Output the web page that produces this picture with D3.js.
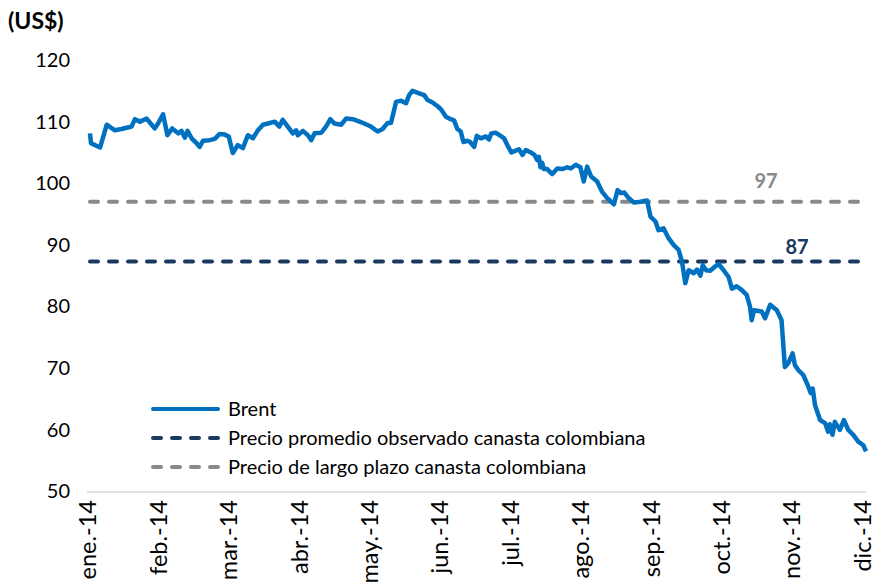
<!DOCTYPE html>
<html>
<head>
<meta charset="utf-8">
<script src="https://cdn.jsdelivr.net/npm/d3@7/dist/d3.min.js"></script>
<style>
  body { margin: 0; background: #fff; }
  svg { display: block; font-family: Lato, "Noto Sans", sans-serif; }
</style>
</head>
<body>
<div id="chart"></div>
<script>
// month labels (category axis, one label every 21 trading days)
const months = ['ene.-14', 'feb.-14', 'mar.-14', 'abr.-14', 'may.-14', 'jun.-14',
  'jul.-14', 'ago.-14', 'sep.-14', 'oct.-14', 'nov.-14', 'dic.-14'];
const monthIdx = [0, 21, 42, 63, 84, 105, 126, 147, 168, 189, 210, 231];

// Brent, US$ per barrel (position in trading days, value)
const dayIdx = [0, 0.3, 3.0, 5.0, 7.4, 9.4, 10.9, 12.4, 13.4, 14.9, 16.9, 18.4, 19.3, 20.3, 21.8,
  23.1, 24.5, 26.3, 27.3, 28.3, 29.1, 30.3, 31.8, 32.7, 33.7, 35.7, 37.2, 38.7, 40.2, 41.4,
  42.6, 44.1, 45.6, 47.1, 48.6, 50.1, 51.6, 53.1, 55.1, 56.5, 57.5, 59.0, 60.5, 61.5, 62.0,
  63.5, 65.0, 66.0, 67.0, 69.0, 70.4, 71.7, 72.9, 74.9, 76.4, 78.4, 80.4, 81.8, 83.8, 85.8,
  87.3, 88.8, 89.8, 91.3, 92.8, 94.3, 95.2, 96.2, 98.2, 99.7, 100.7, 102.2, 103.7, 104.7,
  106.2, 107.6, 108.6, 109.6, 110.6, 111.4, 112.6, 113.4, 114.6, 115.4, 116.6, 118.1, 119.0,
  119.7, 121.0, 122.5, 123.5, 124.5, 125.7, 127.0, 128.0, 129.0, 130.0, 131.5, 132.6, 133.4,
  133.9, 134.4, 134.9, 135.4, 136.4, 137.9, 139.4, 140.9, 142.4, 143.4, 144.9, 146.3, 147.3,
  148.3, 149.5, 151.3, 152.8, 154.3, 156.3, 157.4, 158.4, 159.4, 160.7, 162.2, 164.2, 166.2,
  167.2, 168.7, 169.6, 171.1, 172.6, 174.1, 175.6, 176.6, 177.6, 178.6, 180.1, 181.1, 182.1,
  182.8, 183.8, 185.0, 186.5, 187.5, 189.0, 190.5, 191.5, 192.9, 194.4, 195.9, 196.9, 197.4,
  198.1, 200.4, 201.4, 202.9, 204.9, 206.3, 207.3, 208.3, 209.6, 210.3, 211.3, 212.8, 214.3,
  215.0, 215.6, 216.3, 217.8, 219.3, 220.2, 220.7, 221.5, 222.2, 223.7, 224.9, 226.2, 227.7,
  229.2, 230.7, 231.5];
const brent = [108.1, 106.5, 105.8, 109.5, 108.6, 108.8, 109.0, 109.2, 110.4, 110.0, 110.5, 109.5,
  108.9, 109.7, 111.2, 107.8, 108.9, 108.1, 108.5, 107.4, 108.5, 107.3, 106.5, 105.9, 106.9,
  107.0, 107.2, 108.0, 107.9, 107.6, 104.9, 106.2, 105.7, 107.8, 107.3, 108.6, 109.5, 109.7,
  110.0, 109.2, 110.3, 109.2, 108.1, 108.6, 107.8, 108.5, 107.8, 107.0, 108.1, 108.2, 109.2,
  110.4, 109.7, 109.5, 110.5, 110.4, 110.0, 109.7, 109.2, 108.4, 108.8, 109.8, 109.8, 113.2,
  113.4, 113.0, 114.3, 115.0, 114.6, 114.3, 113.5, 113.1, 112.5, 112.0, 110.8, 110.4, 110.2,
  108.8, 108.4, 106.7, 106.9, 106.7, 105.9, 107.7, 107.3, 107.6, 107.1, 108.1, 108.2, 107.7,
  107.3, 106.2, 105.0, 105.3, 105.5, 104.6, 105.4, 105.0, 104.6, 103.8, 104.3, 102.6, 103.3,
  102.3, 102.3, 101.5, 102.4, 102.3, 102.6, 102.4, 103.0, 102.6, 100.3, 102.7, 101.1, 100.3,
  98.6, 97.6, 96.6, 98.9, 98.4, 98.5, 97.6, 96.9, 97.0, 97.2, 94.6, 93.8, 92.4, 92.7, 91.1,
  90.0, 89.2, 87.3, 83.8, 85.9, 85.4, 86.0, 85.0, 86.7, 85.9, 85.8, 86.5, 86.9, 85.9, 84.8,
  82.9, 83.3, 82.7, 81.9, 80.0, 77.8, 79.4, 79.2, 78.1, 80.3, 79.4, 77.8, 70.2, 70.8, 72.4,
  70.5, 69.7, 68.9, 67.0, 66.0, 66.7, 64.0, 61.6, 61.1, 59.7, 60.9, 59.2, 61.3, 60.0, 61.6,
  60.0, 59.2, 58.1, 57.5, 56.5];

const avgObserved = 87.3;   // Precio promedio observado canasta colombiana
const longTerm = 97;        // Precio de largo plazo canasta colombiana
const yTicks = [50, 60, 70, 80, 90, 100, 110, 120];

const W = 877, H = 586;
const blue = '#0070C0', navy = '#1C3A60', grey = '#898989';

const svg = d3.select('#chart').append('svg').attr('width', W).attr('height', H);

const x = d3.scaleLinear().domain([0, 231.5]).range([90, 866]);
const y = d3.scaleLinear().domain([50, 120]).range([491.5, 60]);

// y axis labels
const yAxis = svg.append('g').attr('transform', 'translate(78,0)')
  .call(d3.axisLeft(y).tickValues(yTicks).tickSize(0).tickPadding(8));
yAxis.select('.domain').remove();
yAxis.selectAll('text').style('font-size', '20px').style('fill', '#000').style('font-family', 'Lato');

svg.append('text').attr('x', 8).attr('y', 29)
  .style('font-size', '23px').style('font-weight', '700').text('(US$)');

// x axis
const xAxis = svg.append('g').attr('transform', 'translate(0,492)')
  .call(d3.axisBottom(x).tickValues(monthIdx).tickFormat((d, i) => months[i]).tickSize(0));
xAxis.select('.domain').attr('stroke', '#d9d9d9').attr('stroke-width', 1.5)
  .attr('d', `M${x(0) - 3},0H${x(231.5)}`);
xAxis.selectAll('text')
  .attr('transform', 'rotate(-90)')
  .attr('x', -8).attr('y', 0).attr('dy', '0.25em')
  .style('text-anchor', 'end')
  .style('font-size', '23.5px').style('fill', '#000').style('font-family', 'Lato');

// reference lines
const refs = [
  { v: longTerm, color: grey, label: '97', lx: 766, ly: 188 },
  { v: avgObserved, color: navy, label: '87', lx: 797, ly: 254 },
];
svg.selectAll('line.ref').data(refs).join('line').attr('class', 'ref')
  .attr('x1', x(0)).attr('x2', x(231.5))
  .attr('y1', d => y(d.v)).attr('y2', d => y(d.v))
  .attr('stroke', d => d.color).attr('stroke-width', 4)
  .attr('stroke-dasharray', '8 11').attr('stroke-linecap', 'round');
svg.selectAll('text.ref').data(refs).join('text').attr('class', 'ref')
  .attr('x', d => d.lx).attr('y', d => d.ly).attr('text-anchor', 'middle')
  .style('font-size', '20px').style('font-weight', '700').style('fill', d => d.color)
  .text(d => d.label);

// Brent line
const line = d3.line().x((d, i) => x(dayIdx[i])).y(d => y(d));
svg.append('path').datum(brent)
  .attr('d', line).attr('fill', 'none')
  .attr('stroke', blue).attr('stroke-width', 4.5).attr('stroke-linejoin', 'round');

// legend
const legend = [
  { name: 'Brent', color: blue, dash: null },
  { name: 'Precio promedio observado canasta colombiana', color: navy, dash: '8 11' },
  { name: 'Precio de largo plazo canasta colombiana', color: grey, dash: '8 11' },
];
const lg = svg.append('g').selectAll('g').data(legend).join('g')
  .attr('transform', (d, i) => `translate(0,${409 + i * 29})`);
lg.append('line').attr('x1', 153).attr('x2', 218)
  .attr('stroke', d => d.color).attr('stroke-width', 4)
  .attr('stroke-dasharray', d => d.dash).attr('stroke-linecap', 'round');
lg.append('text').attr('x', 228).attr('y', 7)
  .style('font-size', '20px').style('fill', '#000').text(d => d.name);
</script>
</body>
</html>
